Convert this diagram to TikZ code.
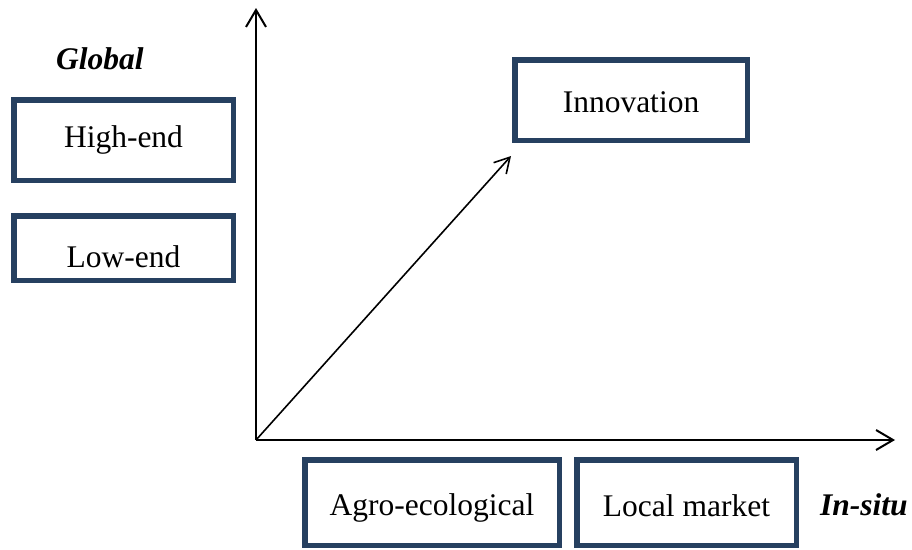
\documentclass[tikz,border=0pt]{standalone}
\usepackage{fontspec}
\setmainfont{Liberation Serif}
\usetikzlibrary{arrows.meta}
\definecolor{boxblue}{RGB}{38,64,96}
\newcommand{\boxtext}[2]{\raisebox{-#1}[0pt][0pt]{\makebox[0pt]{#2}}}
\begin{document}
\begin{tikzpicture}[x=1pt,y=-1pt,
  box/.style={draw=boxblue, line width=5.5pt, fill=white, inner sep=0pt,
    font=\fontsize{31.5}{36}\selectfont},
  axis/.style={line width=2pt, -{Straight Barb[length=17pt,width=20pt,line width=2pt]}},
  diag/.style={line width=1.6pt, -{Straight Barb[length=15pt,width=17pt,line width=1.6pt]}},
  lab/.style={font=\fontsize{31.5}{36}\selectfont\bfseries\itshape, inner sep=0pt}]
\useasboundingbox (0,0) rectangle (912,549);
\coordinate (o) at (256,440);
\coordinate (ytop) at (256,8);
\coordinate (xend) at (895,440);
\coordinate (dend) at (511,156);
\node[box, minimum width=219.5pt, minimum height=80.5pt] (high) at (123.5,140) {\boxtext{7pt}{High-end}};
\node[box, minimum width=219.5pt, minimum height=64.5pt] (low) at (123.5,248) {\boxtext{19pt}{Low-end}};
\node[box, minimum width=232.5pt, minimum height=80.5pt] (innov) at (631,100) {\boxtext{12pt}{Innovation}};
\node[box, minimum width=254.5pt, minimum height=85.5pt] (agro) at (432,502.5) {\boxtext{12.5pt}{Agro-ecological}};
\node[box, minimum width=219.5pt, minimum height=85.5pt] (local) at (686.5,502.5) {\boxtext{13.5pt}{Local market}};
\node[lab, anchor=base west] (global) at (56,69) {Global};
\node[lab, anchor=base west] (insitu) at (820,515) {In-situ};
\draw[axis] (o) -- (ytop);
\draw[axis] (o) -- (xend);
\draw[diag] (o) -- (dend);
\end{tikzpicture}
\end{document}
